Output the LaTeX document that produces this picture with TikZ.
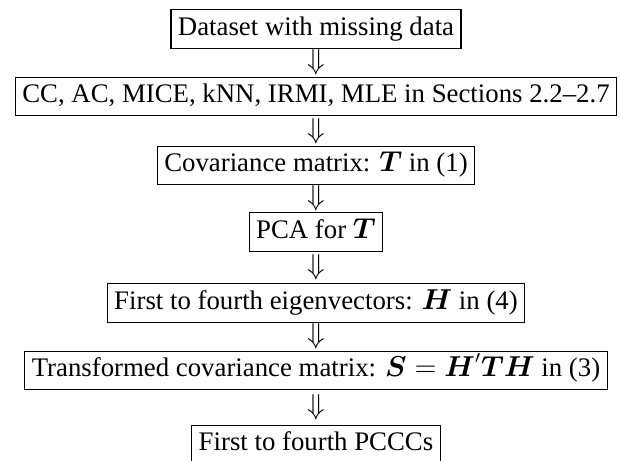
\documentclass[tikz,border=0pt]{standalone}
\usepackage{amsmath}
\usepackage{fontspec}
\setmainfont{Liberation Serif}
\usepackage{tikz}

\begin{document}
\begin{tikzpicture}[x=0.5pt,y=0.5pt]
\tikzstyle{every node}+=[font=\fontsize{13.4}{16}\selectfont]
\tikzstyle{stepbox}=[draw=black,line width=0.6pt,inner xsep=3.5pt,inner ysep=3.4pt,text height=9.4pt,text depth=3pt]
\tikzstyle{thenarrow}=[inner sep=0pt]
\useasboundingbox (0,0) rectangle (620,-460);
\node [stepbox] (dataset) at (316,-29) {Dataset with missing data};
\node [stepbox] (methods) at (316,-96.5) {CC, AC, MICE, kNN, IRMI, MLE in Sections 2.2--2.7};
\node [stepbox] (covmat) at (316,-165.5) {Covariance matrix: $\boldsymbol{T}$ in (1)};
\node [stepbox] (pca) at (316,-232) {PCA for $\boldsymbol{T}$};
\node [stepbox] (eigvec) at (316,-303) {First to fourth eigenvectors: $\boldsymbol{H}$ in (4)};
\node [stepbox] (transcov) at (316,-370.5) {Transformed covariance matrix: $\boldsymbol{S}=\boldsymbol{H}'\boldsymbol{T}\boldsymbol{H}$ in (3)};
\node [stepbox] (pcccs) at (316,-444.5) {First to fourth PCCCs};
\path (dataset) -- node [thenarrow] {$\Downarrow$} (methods);
\path (methods) -- node [thenarrow] {$\Downarrow$} (covmat);
\path (covmat) -- node [thenarrow] {$\Downarrow$} (pca);
\path (pca) -- node [thenarrow] {$\Downarrow$} (eigvec);
\path (eigvec) -- node [thenarrow] {$\Downarrow$} (transcov);
\path (transcov) -- node [thenarrow] {$\Downarrow$} (pcccs);
\end{tikzpicture}
\end{document}
